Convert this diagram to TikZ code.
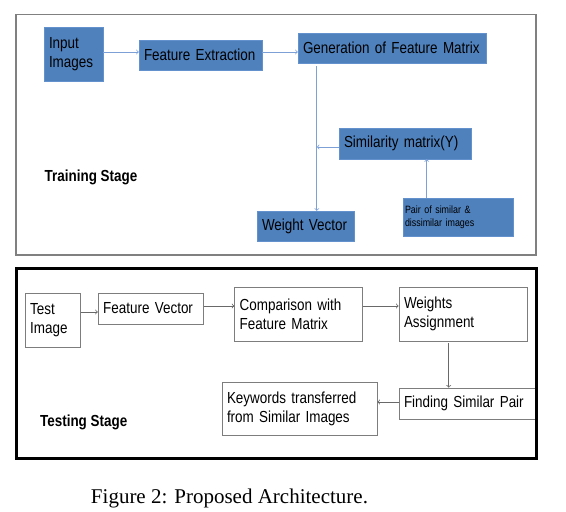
\documentclass[tikz,border=0pt]{standalone}
\usepackage{fontspec}
\setmainfont{Liberation Sans}[FakeStretch=0.84]
\newfontfamily\capfont{Liberation Serif}
\usepackage{xcolor}
\definecolor{boxblue}{RGB}{79,129,189}
\definecolor{edgeblue}{RGB}{98,145,205}
\definecolor{lineblue}{RGB}{125,160,215}
\definecolor{framegray}{RGB}{128,128,128}
\definecolor{boxgray}{RGB}{125,125,125}
\definecolor{arrowgray}{RGB}{105,105,105}
\newcommand{\boxfont}{\fontsize{16}{19}\selectfont}
\newcommand{\stagefont}{\bfseries\fontsize{16}{19}\selectfont}

\begin{document}
\begin{tikzpicture}[x=1pt,y=-1pt,
  bluebox/.style={fill=boxblue,draw=edgeblue,inner xsep=5pt,inner ysep=0pt,align=left,font=\boxfont},
  whitebox/.style={fill=white,draw=boxgray,line width=0.8pt,inner xsep=5pt,inner ysep=0pt,align=left,font=\boxfont},
  bluearrow/.style={draw=lineblue,line width=0.8pt,->},
  grayarrow/.style={draw=arrowgray,line width=0.8pt,->}]
  \useasboundingbox (0,0) rectangle (566,512);
  \fill[white] (0,0) rectangle (566,512);
  \draw[framegray,line width=1.5pt] (16,14.5) rectangle (536,255);
  \node[bluebox,text width=49pt,minimum height=54pt] (inp) at (73.5,54) {Input\\Images};
  \node[bluebox,text width=113pt,minimum height=30pt] (fext) at (200.5,55) {Feature Extraction};
  \node[bluebox,text width=178pt,minimum height=30pt] (gen) at (392,48) {Generation of Feature Matrix};
  \node[bluebox,text width=122pt,minimum height=31pt] (sim) at (405,143.5) {Similarity matrix(Y)};
  \node[bluebox,text width=87pt,minimum height=30pt] (wv) at (305.5,226) {Weight Vector};
  \node[bluebox,inner xsep=2pt,text width=106pt,minimum height=38pt,font=\fontsize{10.6}{13}\selectfont] (pair) at (458,217) {Pair of similar \&\\dissimilar images};
  \node[font=\stagefont] (train) at (91,177) {Training Stage};
  \draw[bluearrow] ([yshift=2pt]inp.east) -- ([yshift=2pt]inp.east -| fext.west);
  \draw[bluearrow] ([yshift=3pt]fext.east) -- ([yshift=3pt]fext.east -| gen.west);
  \coordinate (gdrop) at ([xshift=19pt,yshift=-3pt]gen.south west);
  \draw[bluearrow] (gdrop) -- (gdrop |- wv.north);
  \draw[bluearrow] ([yshift=-3.5pt]sim.west) -- ([yshift=-3.5pt]sim.west -| gdrop);
  \draw[bluearrow] ([xshift=-31.3pt]pair.north) -- ([xshift=-31.3pt]pair.north |- sim.south);
  \node[whitebox,text width=45pt,minimum height=54pt] (test) at (52.7,320) {Test\\Image};
  \node[whitebox,text width=95pt,minimum height=31pt] (fvec) at (150.7,308.5) {Feature Vector};
  \node[whitebox,text width=118pt,minimum height=54pt] (comp) at (298.7,314) {Comparison with\\Feature Matrix};
  \node[whitebox,text width=118pt,minimum height=54pt] (wass) at (463,314) {Weights\\Assignment};
  \node[whitebox,text width=128pt,minimum height=31pt] (find) at (468,403.5) {Finding Similar Pair};
  \node[whitebox,text width=145pt,minimum height=53pt] (kw) at (299.5,408.5) {Keywords transferred\\from Similar Images};
  \node[font=\stagefont] (testing) at (83.7,422) {Testing Stage};
  \draw[grayarrow] ([yshift=8pt]test.east) -- ([yshift=8pt]test.east -| fvec.west);
  \draw[grayarrow] ([yshift=2.5pt]fvec.east) -- ([yshift=2.5pt]fvec.east -| comp.west);
  \draw[grayarrow] ([yshift=8pt]comp.east) -- ([yshift=8pt]comp.east -| wass.west);
  \coordinate (wdrop) at ([xshift=-14.3pt,yshift=-2pt]wass.south);
  \draw[grayarrow] (wdrop) -- (wdrop |- find.north);
  \draw[grayarrow] ([yshift=1.5pt]find.west) -- ([yshift=1.5pt]find.west -| kw.east);
  \draw[black,line width=3pt] (16,268) rectangle (536,458);
  \node[font=\capfont\fontsize{21}{25}\selectfont,anchor=base] (cap) at (229.5,503) {Figure 2: Proposed Architecture.};
\end{tikzpicture}
\end{document}
